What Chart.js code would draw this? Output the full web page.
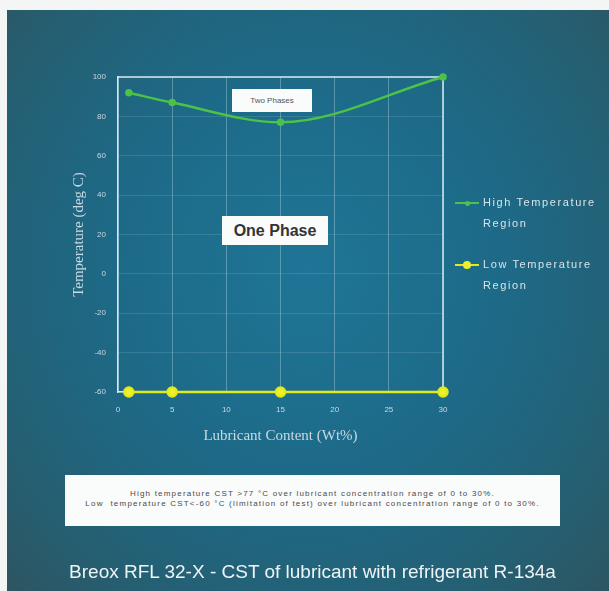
<!DOCTYPE html>
<html>
<head>
<meta charset="utf-8">
<script src="https://cdn.jsdelivr.net/npm/chart.js@4.4.0/dist/chart.umd.min.js"></script>
<style>
  html, body { margin: 0; padding: 0; background: #f4f6f6; }
  #wrap { position: relative; width: 609px; height: 591px; overflow: hidden; }
  #bg {
    position: absolute; left: 7px; top: 10px; right: 0; bottom: 0;
    background: radial-gradient(ellipse at 50% 45%, #1f7596 0%, #1d6a88 45%, #255f72 80%, #2d5560 100%);
  }
  #chartBox { position: absolute; left: 0; top: 0; width: 609px; height: 591px; }
  .box { position: absolute; background: #fafbfb; color: #333; text-align: center; }
  #two { left: 232px; top: 89px; width: 80px; height: 23px; font: 8px "Liberation Sans", Arial, sans-serif; line-height: 23px; color: #555; }
  #one { left: 222px; top: 216px; width: 106px; height: 29px; font: bold 16px "Liberation Sans Narrow", "Liberation Sans", Arial, sans-serif; line-height: 29px; color: #333; }
  #note { left: 65px; top: 475px; width: 495px; height: 51px; font: 8px "Liberation Sans", Arial, sans-serif; letter-spacing: 1.2px; color: #4a4a4a; padding-top: 14px; box-sizing: border-box; line-height: 10px; white-space: nowrap; }
  #title { position: absolute; left: 0; width: 625px; top: 561px; text-align: center; color: #eef3f5;
    font: 19px "Liberation Sans Narrow", "Liberation Sans", Arial, sans-serif; }
  .leg { position: absolute; left: 455px; color: #d8e4ea; font: 11px "Liberation Sans", Arial, sans-serif; letter-spacing: 1.6px; line-height: 21px; white-space: nowrap; }
  .leg .mk { position: absolute; left: 0; top: 10px; width: 24px; height: 2px; }
  .leg .dot { position: absolute; left: 8px; top: 7px; width: 8px; height: 8px; border-radius: 50%; }
  .leg .txt { margin-left: 28px; }
</style>
</head>
<body>
<div id="wrap">
  <div id="bg"></div>
  <div id="chartBox"><canvas id="cst" width="609" height="591"></canvas></div>
  <div class="box" id="two">Two Phases</div>
  <div class="box" id="one">One Phase</div>
  <div class="leg" style="top:192px">
    <div class="mk" style="background:#4cc247"></div>
    <div class="dot" style="background:#4cc247;width:5px;height:5px;left:10px;top:8.5px"></div>
    <div class="txt">High Temperature<br>Region</div>
  </div>
  <div class="leg" style="top:254px">
    <div class="mk" style="background:#e2ea1c"></div>
    <div class="dot" style="background:#eef02a"></div>
    <div class="txt">Low Temperature<br>Region</div>
  </div>
  <div class="box" id="note">High temperature CST &gt;77 &deg;C over lubricant concentration range of 0 to 30%.<br>Low&nbsp; temperature CST&lt;-60 &deg;C (limitation of test) over lubricant concentration range of 0 to 30%.</div>
  <div id="title">Breox RFL 32-X - CST of lubricant with refrigerant R-134a</div>
</div>
<script>
let lubricant = [1, 5, 15, 30];
let highTemp = [92, 87, 77, 100];
let lowTemp = [-60, -60, -60, -60];
let xTicks = [0, 5, 10, 15, 20, 25, 30];
let yTicks = [100, 80, 60, 40, 20, 0, -20, -40, -60];

let tickColor = '#c9d9e2';
let gridColor = 'rgba(200,225,235,0.35)';

let ctx = document.getElementById('cst').getContext('2d');

let chart = new Chart(ctx, {
    type: 'scatter',
    data: {
        datasets: [{
            label: 'High Temperature Region',
            data: lubricant.map((x, i) => ({ x: x, y: highTemp[i] })),
            showLine: true,
            borderColor: '#4cc247',
            backgroundColor: '#4cc247',
            borderWidth: 2.5,
            pointRadius: 2.5,
            cubicInterpolationMode: 'monotone'
        }, {
            label: 'Low Temperature Region',
            data: lubricant.map((x, i) => ({ x: x, y: lowTemp[i] })),
            showLine: true,
            borderColor: '#e2ea1c',
            backgroundColor: '#eef02a',
            borderWidth: 2.5,
            pointRadius: 4.5
        }]
    },
    options: {
        responsive: false,
        animation: false,
        clip: false,
        layout: { padding: { left: 66, right: 166, top: 77, bottom: 142 } },
        plugins: { legend: { display: false }, tooltip: { enabled: false } },
        scales: {
            x: {
                type: 'linear', min: 0, max: 30,
                afterBuildTicks: s => { s.ticks = xTicks.map(v => ({ value: v })); },
                afterFit: s => { s.height = 57; },
                grid: { color: gridColor, drawTicks: false },
                border: { color: '#d8e8f0', width: 1.5 },
                ticks: { color: tickColor, font: { family: 'Liberation Sans', size: 8 }, padding: 13 },
                title: { display: true, text: 'Lubricant Content (Wt%)', color: tickColor,
                         font: { family: 'Liberation Serif', size: 15 }, padding: { top: 4, bottom: 4 } }
            },
            y: {
                min: -60, max: 100,
                afterBuildTicks: s => { s.ticks = yTicks.map(v => ({ value: v })); },
                afterFit: s => { s.width = 52; },
                grid: { color: 'rgba(200,225,235,0.15)', drawTicks: false },
                border: { color: '#d8e8f0', width: 1.5 },
                ticks: { color: tickColor, font: { family: 'Liberation Sans', size: 8 }, padding: 12 },
                title: { display: true, text: 'Temperature (deg C)', color: tickColor,
                         font: { family: 'Liberation Serif', size: 15 }, padding: { top: 4, bottom: 4 } }
            }
        }
    },
    plugins: [{
        id: 'frame',
        beforeDatasetsDraw(c) {
            let a = c.chartArea, g = c.ctx;
            g.save();
            g.strokeStyle = '#d8e8f0';
            g.lineWidth = 1.5;
            g.beginPath();
            g.moveTo(a.left, a.top); g.lineTo(a.right, a.top); g.lineTo(a.right, a.bottom);
            g.stroke();
            g.restore();
        }
    }]
});
</script>
</body>
</html>
